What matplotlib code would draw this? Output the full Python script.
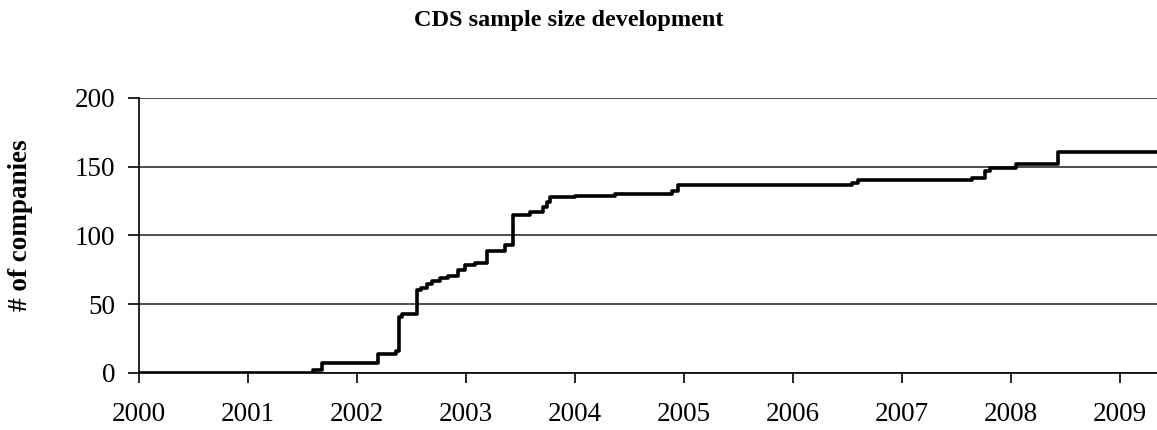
import matplotlib
matplotlib.use("Agg")
import matplotlib.pyplot as plt

# Step dates (fractional years) and number of companies from that date on
dates = [2000.00, 2001.60, 2001.68, 2002.19, 2002.36, 2002.39, 2002.41, 2002.55,
         2002.59, 2002.64, 2002.69, 2002.76, 2002.84, 2002.93, 2002.99, 2003.08,
         2003.19, 2003.36, 2003.43, 2003.59, 2003.71, 2003.74, 2003.77, 2004.00,
         2004.37, 2004.89, 2004.95, 2006.54, 2006.60, 2007.64, 2007.76, 2007.81,
         2008.05, 2008.43, 2009.34]
companies = [0, 2, 7, 14, 16, 41, 43, 60,
             62, 65, 67, 69, 70.5, 75, 78.5, 80,
             89, 93, 115, 117, 121, 124, 128, 129,
             130, 132, 137, 138.5, 140, 142, 147, 149,
             152, 161, 161]

year_ticks = list(range(2000, 2010))
y_ticks = [0, 50, 100, 150, 200]

fig = plt.figure(figsize=(11.57, 4.30), dpi=100)
ax = fig.add_axes([0.120, 0.1326, 0.880, 0.6396])

serif = ["Liberation Serif", "DejaVu Serif"]

ax.step(dates, companies, where="post", color="black", linewidth=2.6, zorder=3)

ax.set_xlim(2000, 2009.34)
ax.set_ylim(0, 200)
ax.set_xticks(year_ticks)
ax.set_xticklabels([str(y) for y in year_ticks], fontfamily=serif, fontsize=19.5)
ax.set_yticks(y_ticks)
ax.set_yticklabels([str(v) for v in y_ticks], fontfamily=serif, fontsize=19.5)

ax.yaxis.grid(True, color="#404040", linewidth=1.3)
ax.set_axisbelow(True)
for s in ["top", "right"]:
    ax.spines[s].set_visible(False)
ax.spines["left"].set_linewidth(1.2)
ax.spines["bottom"].set_linewidth(1.2)
ax.tick_params(axis="x", direction="out", length=7, width=1.2, pad=14)
ax.tick_params(axis="y", direction="out", length=8, width=1.2, pad=9)

fig.text(0.0175, 0.476, "# of companies", rotation=90, ha="center", va="center",
         fontfamily=serif, fontweight="bold", fontsize=19.5)
fig.text(0.492, 0.953, "CDS sample size development", ha="center", va="center",
         fontfamily=serif, fontweight="bold", fontsize=17.5)

fig.savefig("out.png", dpi=100)
